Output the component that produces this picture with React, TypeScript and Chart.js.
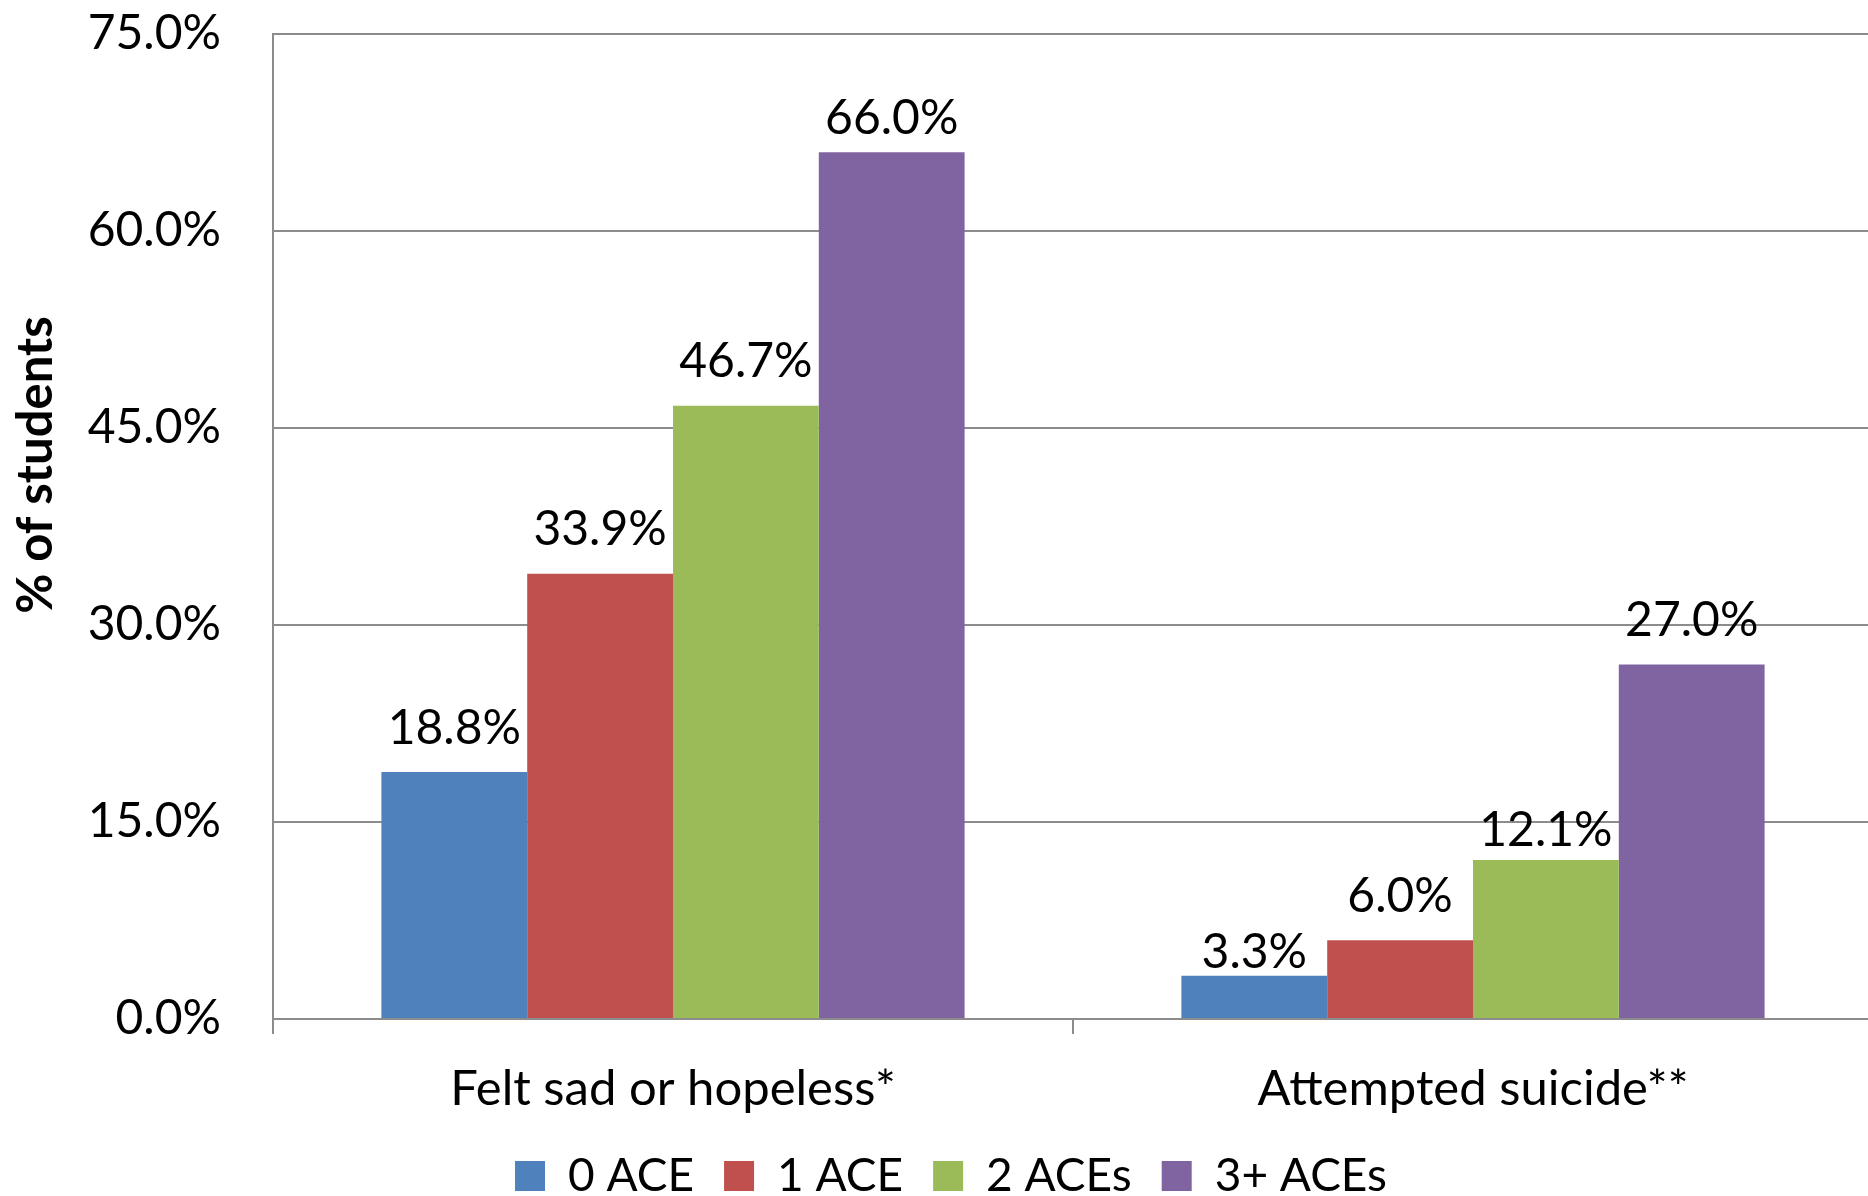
import React, { useEffect, useRef } from "react";
import { Chart, registerables } from "chart.js";

Chart.register(...registerables);

const categories = ["Felt sad or hopeless*", "Attempted suicide**"];
const seriesNames = ["0 ACE", "1 ACE", "2 ACEs", "3+ ACEs"];
const ace0 = [18.8, 3.3];
const ace1 = [33.9, 6.0];
const ace2 = [46.7, 12.1];
const ace3 = [66.0, 27.0];
const seriesColors = ["#4F81BD", "#C0504D", "#9BBB59", "#8064A2"];
const yTicks = [0, 15, 30, 45, 60, 75];
const yTitle = "% of students";

// style: distance (px) of each value label's centre above its bar top
const labelLift = [
  [44, 23.5],
  [44, 44],
  [44, 30],
  [34, 44],
];

const FONT = "Lato, 'Open Sans', sans-serif";
const GRID = "#8c8c8c";

const valueLabels = {
  id: "valueLabels",
  afterDatasetsDraw(chart: any) {
    const ctx = chart.ctx;
    ctx.save();
    ctx.font = `48px ${FONT}`;
    ctx.fillStyle = "#000";
    ctx.textAlign = "center";
    ctx.textBaseline = "middle";
    chart.data.datasets.forEach((ds: any, i: number) => {
      const meta = chart.getDatasetMeta(i);
      meta.data.forEach((el: any, j: number) => {
        const v = ds.data[j] as number;
        ctx.fillText(v.toFixed(1) + "%", el.x, el.y - labelLift[i][j]);
      });
    });
    ctx.restore();
  },
};

const yTitlePlugin = {
  id: "yTitlePlugin",
  afterDraw(chart: any) {
    const ctx = chart.ctx;
    ctx.save();
    ctx.font = `bold 49px ${FONT}`;
    ctx.fillStyle = "#000";
    ctx.textAlign = "center";
    ctx.textBaseline = "middle";
    ctx.translate(36, 465);
    ctx.rotate(-Math.PI / 2);
    ctx.fillText(yTitle, 0, 0);
    ctx.restore();
  },
};

export default function App() {
  const ref = useRef<HTMLCanvasElement | null>(null);
  useEffect(() => {
    if (!ref.current) return;
    const data = [ace0, ace1, ace2, ace3];
    const chart = new Chart(ref.current, {
      type: "bar",
      data: {
        labels: categories,
        datasets: seriesNames.map((n, i) => ({
          label: n,
          data: data[i],
          backgroundColor: seriesColors[i],
          borderWidth: 0,
          categoryPercentage: 0.729,
          barPercentage: 1.0,
        })),
      },
      options: {
        responsive: false,
        animation: false,
        layout: { padding: { left: 29, right: 7, top: 34, bottom: -13 } },
        plugins: {
          legend: {
            position: "bottom",
            labels: {
              boxWidth: 30,
              boxHeight: 30,
              padding: 30,
              color: "#000",
              font: { family: FONT, size: 46 },
            },
          },
          tooltip: { enabled: false },
        },
        scales: {
          x: {
            afterFit(scale: any) {
              scale.height = 104;
            },
            grid: {
              display: true,
              drawOnChartArea: false,
              drawTicks: true,
              tickLength: 15,
              color: GRID,
              lineWidth: 2,
              offset: true,
            },
            border: { display: true, color: GRID, width: 2 },
            ticks: {
              color: "#000",
              padding: 26,
              font: { family: FONT, size: 49 },
            },
          },
          y: {
            min: 0,
            max: 75,
            afterBuildTicks(scale: any) {
              scale.ticks = yTicks.map((v) => ({ value: v }));
            },
            afterFit(scale: any) {
              scale.width = 244;
            },
            grid: {
              color: GRID,
              lineWidth: 2,
              drawTicks: true,
              tickLength: 52,
              tickColor: "rgba(0,0,0,0)",
            },
            border: { display: true, color: GRID, width: 2 },
            ticks: {
              color: "#000",
              padding: 0,
              font: { family: FONT, size: 48 },
              callback: (v: any) => Number(v).toFixed(1) + "%",
            },
          },
        },
      },
      plugins: [valueLabels, yTitlePlugin],
    });
    return () => chart.destroy();
  }, []);
  return (
    <div
      style={{
        position: "fixed",
        left: 0,
        top: 0,
        width: 1868,
        height: 1196,
        overflow: "hidden",
        background: "#fff",
      }}
    >
      <canvas ref={ref} width={1880} height={1196} style={{ display: "block" }} />
    </div>
  );
}
